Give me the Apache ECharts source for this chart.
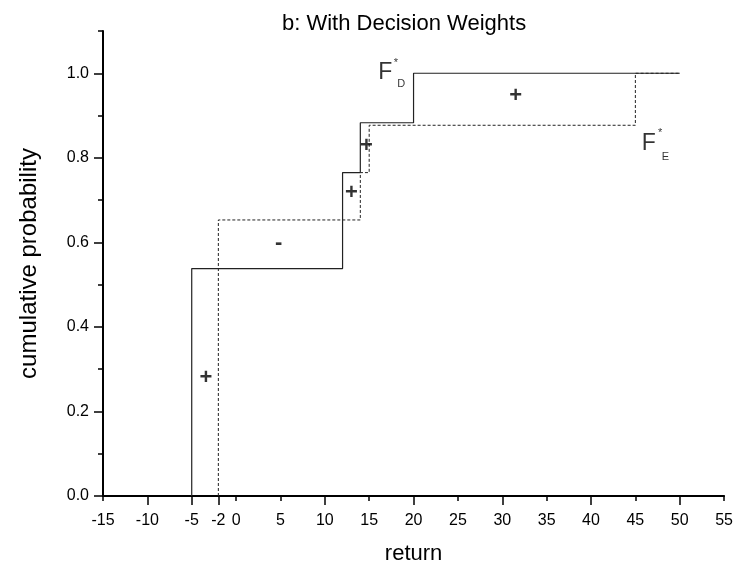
<!DOCTYPE html>
<html>
<head>
<meta charset="utf-8">
<script src="https://cdn.jsdelivr.net/npm/echarts@6/dist/echarts.min.js"></script>
<style>
html, body { margin: 0; background: #fff; }
#chart { width: 736px; height: 581px; }
</style>
</head>
<body>
<div id="chart"></div>
<script>
// F*_D (solid): where each jump happens and the level after it
const dJumps = [-5, 12, 14, 20]
const dLevels = [0.538, 0.765, 0.883, 1.0]
const dEnd = 50

// F*_E (dashed)
const eJumps = [-2, 14, 15, 45]
const eLevels = [0.653, 0.765, 0.877, 1.0]
const eEnd = 50

// axis ticks / labels
const xLabelValues = [-15, -10, -5, -2, 0, 5, 10, 15, 20, 25, 30, 35, 40, 45, 50, 55]
const xMajorTicks = [-10, -5, -2, 10, 20, 30, 40, 50]
const xMinorTicks = [-15, 0, 5, 15, 25, 35, 45, 55]
const yLabelValues = [0, 0.2, 0.4, 0.6, 0.8, 1.0]
const yMinorTicks = [0.1, 0.3, 0.5, 0.7, 0.9, 1.1]

// +/- marks between the curves
const signX = [-3.4, 4.8, 13.0, 14.7, 31.5]
const signY = [0.28, 0.599, 0.718, 0.828, 0.946]
const signText = ['+', '-', '+', '+', '+']

// curve names, F with * and subscript
const nameX = [16.8, 18.0, 18.6, 46.5, 47.8, 48.4]
const nameY = [1.002, 1.024, 0.974, 0.833, 0.858, 0.802]
const nameText = ['F', '*', 'D', 'F', '*', 'E']

const FONT = '"Liberation Sans", Arial, sans-serif'

function stepData(jumps, levels, end) {
  const pts = [[jumps[0], 0]]
  levels.forEach((lv, i) => {
    pts.push([i + 1 < jumps.length ? jumps[i + 1] : end, lv])
  })
  return pts
}

const chart = echarts.init(document.getElementById('chart'))

const textItems = (xs, ys, texts, sizeOf) =>
  xs.map((x, i) => ({
    value: [x, ys[i]],
    label: { formatter: texts[i], fontSize: sizeOf(texts[i]) },
  }))

chart.setOption({
  animation: false,
  title: {
    text: 'b: With Decision Weights',
    left: 277,
    top: 8,
    textStyle: { fontFamily: FONT, fontSize: 22, fontWeight: 'normal', color: '#000' },
  },
  grid: { left: 103, right: 7, top: 31, bottom: 85 },
  xAxis: [
    {
      type: 'value',
      min: -15,
      max: 55,
      name: 'return',
      nameLocation: 'middle',
      nameGap: 47,
      nameTextStyle: { fontFamily: FONT, fontSize: 22, color: '#000' },
      axisLine: { onZero: false, lineStyle: { color: '#000', width: 2 } },
      axisTick: { customValues: xMajorTicks, length: 9, lineStyle: { color: '#000', width: 1.5 } },
      axisLabel: {
        customValues: xLabelValues,
        margin: 17,
        fontFamily: FONT,
        fontSize: 16,
        color: '#000',
      },
      splitLine: { show: false },
    },
    {
      type: 'value',
      min: -15,
      max: 55,
      position: 'bottom',
      axisLine: { show: false, onZero: false },
      axisTick: { customValues: xMinorTicks, length: 5, lineStyle: { color: '#000', width: 1.5 } },
      axisLabel: { show: false },
      splitLine: { show: false },
    },
  ],
  yAxis: [
    {
      type: 'value',
      min: 0,
      max: 1.1,
      name: 'cumulative probability',
      nameLocation: 'middle',
      nameGap: 62,
      nameTextStyle: { fontFamily: FONT, fontSize: 24, color: '#000' },
      axisLine: { show: true, onZero: false, lineStyle: { color: '#000', width: 2 } },
      axisTick: { show: true, customValues: yLabelValues, length: 9, lineStyle: { color: '#000', width: 1.5 } },
      axisLabel: {
        customValues: yLabelValues,
        margin: 14,
        fontFamily: FONT,
        fontSize: 16,
        color: '#000',
        formatter: (v) => v.toFixed(1),
      },
      splitLine: { show: false },
    },
    {
      type: 'value',
      min: 0,
      max: 1.1,
      position: 'left',
      axisLine: { show: false, onZero: false },
      axisTick: { show: true, customValues: yMinorTicks, length: 5, lineStyle: { color: '#000', width: 1.5 } },
      axisLabel: { show: false },
      splitLine: { show: false },
    },
  ],
  series: [
    {
      name: 'F*E',
      type: 'line',
      step: 'start',
      data: stepData(eJumps, eLevels, eEnd),
      symbol: 'none',
      lineStyle: { color: '#222', width: 1, type: [3, 2] },
      z: 2,
    },
    {
      name: 'F*D',
      type: 'line',
      step: 'start',
      data: stepData(dJumps, dLevels, dEnd),
      symbol: 'none',
      lineStyle: { color: '#222', width: 1.2 },
      z: 3,
    },
    {
      type: 'scatter',
      symbolSize: 1,
      itemStyle: { color: 'rgba(0,0,0,0)' },
      label: { show: true, position: 'inside', fontFamily: FONT, fontWeight: 'bold', color: '#000' },
      data: textItems(signX, signY, signText, () => 22),
      z: 4,
    },
    {
      type: 'scatter',
      symbolSize: 1,
      itemStyle: { color: 'rgba(0,0,0,0)' },
      label: { show: true, position: 'inside', fontFamily: FONT, color: '#000' },
      data: textItems(nameX, nameY, nameText, (t) => (t === 'F' ? 23 : 11)),
      z: 4,
    },
  ],
})
</script>
</body>
</html>
